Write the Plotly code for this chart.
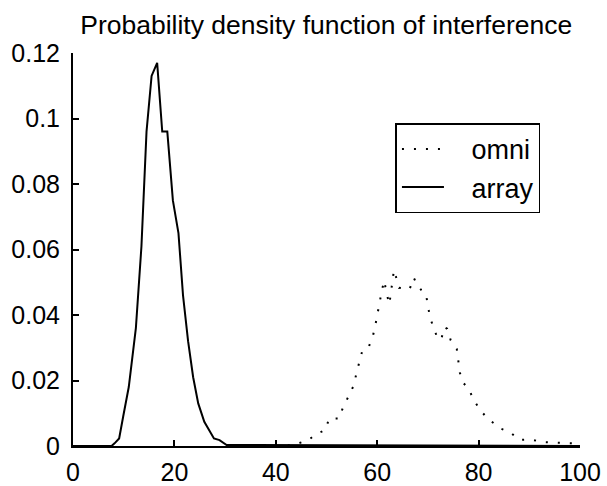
import plotly.graph_objects as go

# --- data ---
array_x = [0, 7.6, 8.2, 9.1, 9.9, 11.0, 12.4, 13.5, 14.5, 15.5, 16.6, 17.6, 18.6, 19.7,
           20.8, 21.7, 22.7, 23.7, 24.7, 25.9, 27.8, 28.9, 30.3, 100]
array_y = [0, 0, 0.0008, 0.0023, 0.009, 0.018, 0.036, 0.061, 0.096, 0.113, 0.117, 0.096,
           0.096, 0.075, 0.065, 0.046, 0.032, 0.021, 0.013, 0.0074, 0.0023, 0.0018, 0.0003, 0]

omni_x = [40.0, 43.4, 46.4, 48.0, 49.8, 50.5, 52.5, 53.3, 54.4, 55.4, 55.9, 56.5, 57.1,
          58.4, 59.2, 59.7, 60.1, 60.5, 61.0, 61.4, 61.8, 62.4, 62.7, 63.0, 63.3, 63.7,
          64.3, 66.4, 67.2, 67.8, 68.7, 69.6, 70.0, 70.4, 71.2, 72.0, 72.7, 73.2, 73.8,
          74.5, 75.7, 76.0, 76.3, 76.9, 78.0, 79.0, 80.2, 81.7, 83.2, 84.4, 86.2, 88.0,
          90.3, 92.6, 95.1, 97.4, 99.3]
omni_y = [0.0, 0.0003, 0.0018, 0.0037, 0.0049, 0.0084, 0.0084, 0.012, 0.0153, 0.0186,
          0.0222, 0.0257, 0.0293, 0.0305, 0.0339, 0.0374, 0.041, 0.0446, 0.0481, 0.0505,
          0.0469, 0.0433, 0.0467, 0.0501, 0.0537, 0.0517, 0.0483, 0.0479, 0.0514, 0.0495,
          0.0476, 0.0465, 0.0428, 0.0393, 0.0358, 0.0325, 0.0329, 0.0363, 0.0358, 0.0323,
          0.0296, 0.026, 0.0224, 0.0194, 0.0176, 0.0142, 0.0112, 0.0085, 0.0067, 0.0053,
          0.0042, 0.0019, 0.002, 0.0012, 0.001, 0.001, 0.0008]

x_ticks = [0, 20, 40, 60, 80, 100]
x_tick_text = ["0", "20", "40", "60", "80", "100"]
y_ticks = [0, 0.02, 0.04, 0.06, 0.08, 0.1, 0.12]
y_tick_text = ["0", "0.02", "0.04", "0.06", "0.08", "0.1", "0.12"]

title_text = "Probability density function of interference"
series_names = ["omni", "array"]

FONT = "Liberation Sans, Arial, Helvetica, sans-serif"
PAD = "\u00a0\u00a0\u00a0"

fig = go.Figure()
fig.add_trace(go.Scatter(x=omni_x, y=omni_y, mode="lines", name=PAD + series_names[0],
                         line=dict(color="black", width=2, dash="2px,10px")))
fig.add_trace(go.Scatter(x=array_x, y=array_y, mode="lines", name=PAD + series_names[1],
                         line=dict(color="black", width=2)))

fig.update_layout(
    width=607, height=486,
    margin=dict(l=73, r=27, t=53, b=40),
    paper_bgcolor="white", plot_bgcolor="white",
    font=dict(family=FONT, color="black", size=25),
    title=dict(text=title_text, x=0.5375, xanchor="center", y=0.95, yanchor="middle",
               yref="container", font=dict(size=26.5, family=FONT, color="black")),
    showlegend=True,
    legend=dict(x=0.636, y=0.821, xanchor="left", yanchor="top",
                bordercolor="black", borderwidth=1.5, bgcolor="white",
                font=dict(size=27, family=FONT), itemwidth=42,
                tracegroupgap=0),
)
fig.update_xaxes(range=[0, 100], tickvals=x_ticks, ticktext=x_tick_text,
                 showline=True, linecolor="black", linewidth=2, ticks="inside",
                 ticklen=6, tickwidth=1.5, tickcolor="black", showgrid=False,
                 zeroline=False, ticklabelstandoff=3, fixedrange=True,
                 automargin=False)
fig.update_yaxes(range=[0, 0.12], tickvals=y_ticks, ticktext=y_tick_text,
                 showline=True, linecolor="black", linewidth=2, ticks="inside",
                 ticklen=6, tickwidth=1.5, tickcolor="black", showgrid=False,
                 zeroline=False, ticklabelstandoff=6, fixedrange=True,
                 automargin=False)

fig.write_html("out.html")
